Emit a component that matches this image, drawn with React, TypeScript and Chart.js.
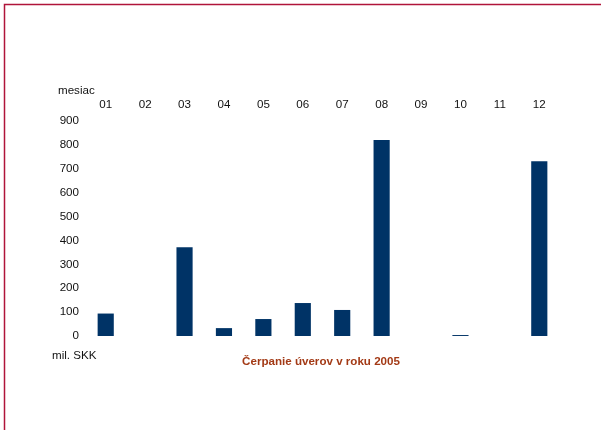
import React, { useEffect, useRef } from "react";
import { Chart, registerables } from "chart.js";

Chart.register(...registerables);

// Monthly drawdowns (mil. SKK) in 2005
const months = ["01", "02", "03", "04", "05", "06", "07", "08", "09", "10", "11", "12"];
const drawdowns = [94, 0, 372, 33, 71, 138, 109, 820, 0, 4, 0, 732];
const yTicks = [0, 100, 200, 300, 400, 500, 600, 700, 800, 900];

const FONT = "'Liberation Sans', Arial, sans-serif";
const SIZE = 11.6;

const textPlugin = {
  id: "labels",
  afterDraw(chart: Chart) {
    const { ctx } = chart;
    const x = chart.scales.x;
    ctx.save();
    ctx.font = `${SIZE}px ${FONT}`;
    ctx.fillStyle = "#111111";
    ctx.textBaseline = "middle";
    // month labels above the plot
    ctx.textAlign = "center";
    months.forEach((m, i) => {
      ctx.fillText(m, x.getPixelForTick(i), 104.5);
    });
    ctx.textAlign = "left";
    ctx.fillText("mesiac", 58, 91);
    ctx.fillText("mil. SKK", 52, 356);
    ctx.font = `bold ${SIZE}px ${FONT}`;
    ctx.fillStyle = "#a33a16";
    ctx.textAlign = "center";
    ctx.fillText("Čerpanie úverov v roku 2005", 321, 361.5);
    // page frame lines
    ctx.strokeStyle = "#b0143a";
    ctx.lineWidth = 1.5;
    ctx.beginPath();
    ctx.moveTo(4.5, 430);
    ctx.lineTo(4.5, 4.5);
    ctx.lineTo(601, 4.5);
    ctx.stroke();
    ctx.restore();
  },
};

export default function App() {
  const ref = useRef<HTMLCanvasElement>(null);
  useEffect(() => {
    document.body.style.margin = "0";
    const chart = new Chart(ref.current!, {
      type: "bar",
      data: {
        labels: months,
        datasets: [
          {
            data: drawdowns,
            backgroundColor: "#003366",
            barPercentage: 0.41,
            categoryPercentage: 1,
          },
        ],
      },
      options: {
        animation: false,
        responsive: false,
        layout: { padding: { left: 0, top: 121, right: 42, bottom: 94 } },
        plugins: { legend: { display: false }, tooltip: { enabled: false } },
        scales: {
          x: {
            display: false,
          },
          y: {
            min: 0,
            max: 900,
            afterBuildTicks: (s: any) => {
              s.ticks = yTicks.map((v) => ({ value: v }));
            },
            grid: { display: false, drawTicks: false },
            border: { display: false },
            ticks: { color: "#111111", font: { family: FONT, size: SIZE }, padding: 7 },
            afterFit: (s: any) => {
              s.width = 86;
            },
          },
        },
      },
      plugins: [textPlugin],
    });
    return () => chart.destroy();
  }, []);
  return (
    <div style={{ position: "fixed", left: 0, top: 0, width: 601, height: 430, background: "#fff" }}>
      <canvas ref={ref} width={601} height={430} style={{ display: "block" }} />
    </div>
  );
}
